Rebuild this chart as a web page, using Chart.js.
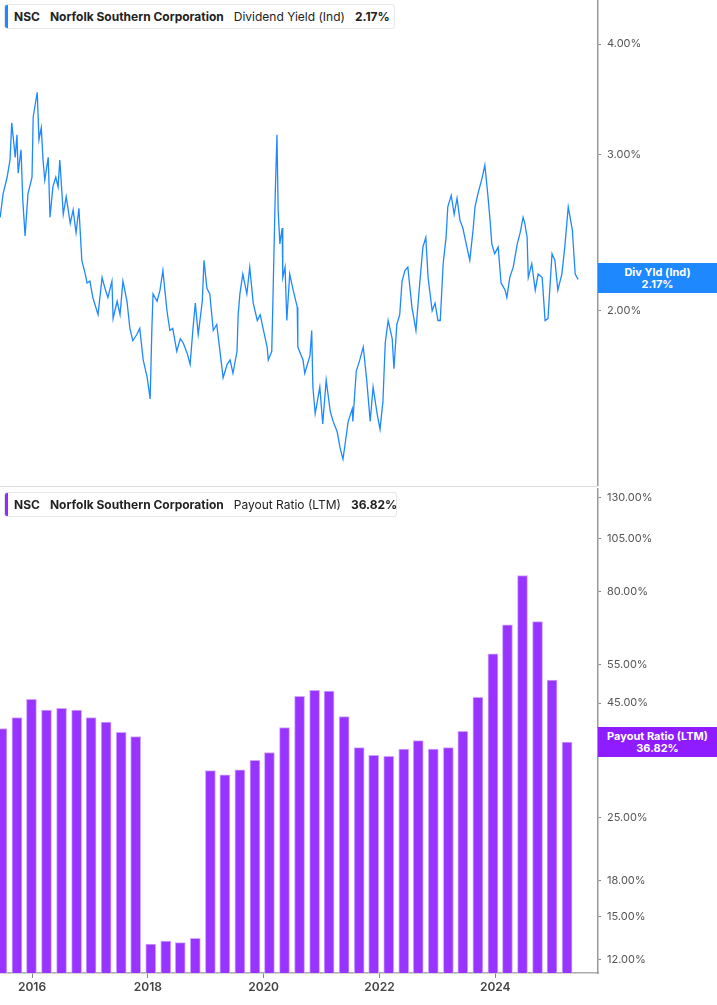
<!DOCTYPE html>
<html><head><meta charset="utf-8">
<script src="https://cdn.jsdelivr.net/npm/chart.js@4.4.1/dist/chart.umd.min.js"></script>
<style>
body{margin:0;background:#fff;width:717px;height:1005px;overflow:hidden;font-family:Inter,"Noto Sans",sans-serif;position:relative}
.wrap{position:absolute;left:0;width:717px}
.leg{position:absolute;left:4px;height:25px;background:#fff;border:1px solid #e6e6e6;border-radius:3px;font-size:12px;color:#222;display:flex;align-items:center;padding:0 12px 0 9px;box-sizing:border-box;white-space:nowrap}
.leg .bar{position:absolute;left:0;top:0;bottom:0;width:3px;border-radius:2px 0 0 2px}
.leg b{font-weight:700;margin-right:10px}
.leg span{margin-right:10px}
.tag{position:absolute;left:598px;width:119px;height:30px;color:#fff;font-size:11px;font-weight:700;text-align:center;line-height:12px;display:flex;flex-direction:column;justify-content:center}
</style></head><body>
<div class="wrap" style="top:-12px;height:510px"><canvas id="c1"></canvas></div>
<div class="wrap" style="top:476px;height:529px"><canvas id="c2"></canvas></div>
<div style="position:absolute;left:0;top:486px;width:598px;height:1px;background:#ddd"></div>
<div class="leg" style="top:4px;width:391px"><div class="bar" style="background:#1e88ff"></div><b>NSC</b><b>Norfolk Southern Corporation</b><span>Dividend Yield (Ind)</span><b style="margin:0">2.17%</b></div>
<div class="leg" style="top:492px;width:393px"><div class="bar" style="background:#8f2cff"></div><b>NSC</b><b>Norfolk Southern Corporation</b><span>Payout Ratio (LTM)</span><b style="margin:0">36.82%</b></div>
<div class="tag" style="top:263px;background:#1e88ff"><div>Div Yld (Ind)</div><div>2.17%</div></div>
<div class="tag" style="top:727px;background:#8f1cff"><div>Payout Ratio (LTM)</div><div>36.82%</div></div>
<script>
const yieldDates=[2015.45,2015.50,2015.57,2015.62,2015.65,2015.71,2015.74,2015.76,2015.81,2015.84,2015.88,2015.93,2016.00,2016.02,2016.09,2016.12,2016.16,2016.19,2016.22,2016.28,2016.31,2016.36,2016.41,2016.45,2016.48,2016.54,2016.59,2016.66,2016.71,2016.76,2016.81,2016.86,2016.92,2016.95,2017.00,2017.05,2017.14,2017.21,2017.26,2017.31,2017.38,2017.40,2017.47,2017.52,2017.57,2017.64,2017.69,2017.74,2017.81,2017.86,2017.92,2017.99,2018.04,2018.07,2018.09,2018.16,2018.21,2018.26,2018.33,2018.38,2018.43,2018.50,2018.56,2018.61,2018.68,2018.73,2018.78,2018.82,2018.87,2018.90,2018.94,2018.97,2019.02,2019.07,2019.13,2019.19,2019.25,2019.30,2019.37,2019.42,2019.47,2019.54,2019.56,2019.59,2019.64,2019.71,2019.76,2019.82,2019.89,2019.94,2019.99,2020.06,2020.08,2020.14,2020.16,2020.20,2020.23,2020.25,2020.28,2020.32,2020.33,2020.37,2020.40,2020.45,2020.51,2020.58,2020.59,2020.68,2020.71,2020.80,2020.83,2020.85,2020.89,2020.97,2021.02,2021.08,2021.15,2021.20,2021.27,2021.32,2021.37,2021.41,2021.46,2021.53,2021.54,2021.60,2021.66,2021.72,2021.78,2021.84,2021.89,2021.96,2022.01,2022.06,2022.10,2022.15,2022.22,2022.25,2022.30,2022.35,2022.39,2022.44,2022.49,2022.56,2022.63,2022.68,2022.75,2022.80,2022.84,2022.91,2022.96,2023.01,2023.05,2023.10,2023.15,2023.18,2023.24,2023.29,2023.34,2023.39,2023.44,2023.51,2023.56,2023.62,2023.65,2023.70,2023.77,2023.82,2023.87,2023.91,2023.94,2023.99,2024.05,2024.10,2024.17,2024.20,2024.25,2024.31,2024.38,2024.43,2024.48,2024.51,2024.55,2024.57,2024.63,2024.69,2024.74,2024.81,2024.86,2024.91,2024.98,2025.03,2025.08,2025.15,2025.20,2025.26,2025.33,2025.38,2025.43];
const yieldValues=[2.55,2.71,2.83,2.96,3.26,2.98,3.16,2.86,3.04,2.67,2.43,2.71,2.83,3.31,3.53,3.12,3.22,2.96,2.81,2.98,2.55,2.76,2.83,2.76,2.96,2.57,2.69,2.51,2.60,2.45,2.61,2.28,2.20,2.15,2.16,2.07,1.98,2.18,2.12,2.07,2.16,1.96,2.05,1.98,2.16,2.05,1.91,1.85,1.88,1.91,1.76,1.68,1.59,1.91,2.09,2.05,2.11,2.22,2.00,1.90,1.91,1.80,1.86,1.84,1.79,1.74,1.91,2.04,1.88,1.95,2.05,2.28,2.12,2.09,1.90,1.93,1.79,1.68,1.74,1.76,1.70,1.80,1.98,2.09,2.20,2.09,2.24,2.04,1.95,1.98,1.91,1.82,1.76,1.80,2.05,2.71,3.16,2.60,2.38,2.48,2.18,2.24,1.95,2.20,2.11,2.02,1.82,1.76,1.70,1.78,1.90,1.64,1.53,1.64,1.49,1.67,1.54,1.50,1.46,1.40,1.36,1.42,1.50,1.55,1.50,1.71,1.76,1.82,1.67,1.50,1.64,1.53,1.47,1.58,1.84,1.95,1.86,1.72,1.93,1.98,2.16,2.22,2.24,2.02,1.90,2.09,2.36,2.42,2.18,2.00,2.04,1.95,1.95,2.26,2.42,2.62,2.70,2.57,2.68,2.53,2.48,2.36,2.28,2.48,2.62,2.71,2.82,2.92,2.71,2.53,2.38,2.32,2.36,2.15,2.11,2.07,2.18,2.24,2.38,2.45,2.55,2.51,2.42,2.18,2.26,2.11,2.20,2.18,1.95,1.96,2.32,2.28,2.11,2.20,2.36,2.62,2.47,2.20,2.17];
const payoutDates=[2015.48,2015.74,2015.99,2016.25,2016.51,2016.77,2017.02,2017.28,2017.54,2017.79,2018.05,2018.31,2018.56,2018.82,2019.08,2019.33,2019.59,2019.85,2020.10,2020.36,2020.62,2020.88,2021.13,2021.39,2021.65,2021.90,2022.16,2022.42,2022.67,2022.93,2023.19,2023.44,2023.70,2023.96,2024.21,2024.47,2024.73,2024.98,2025.24];
const payoutValues=[39.5,41.8,45.9,43.4,43.8,43.4,41.8,40.8,38.7,37.9,13.0,13.2,13.1,13.4,31.8,31.1,31.9,33.5,34.9,39.7,46.6,48.1,47.9,42.0,35.8,34.4,34.2,35.5,37.1,35.5,35.8,38.9,46.4,58.0,67.4,86.9,68.5,50.7,36.82];
const yearTicks=[2016,2018,2020,2022,2024];
const yieldTicks=[2,3,4];
const payoutTicks=[12,15,18,25,35,45,55,80,105,130];

const XMIN=2015.447, XMAX=2025.774;
const tickFont={family:'Inter, "Noto Sans", sans-serif',size:11};
function yAxis(min,max,ticks){
  return {type:'logarithmic',position:'right',min,max,
    afterBuildTicks:a=>{a.ticks=ticks.map(v=>({value:v}))},
    afterFit:a=>{a.width=119},
    grid:{display:true,drawOnChartArea:false,tickLength:3,color:'#888',tickColor:'#888'},
    border:{display:true,color:'#999',width:1.5},
    ticks:{color:'#555',font:tickFont,padding:6,callback:v=>v.toFixed(2)+'%'}};
}
Chart.defaults.animation=false;
new Chart(document.getElementById('c1'),{
  type:'line',
  data:{datasets:[{data:yieldDates.map((d,i)=>({x:d,y:yieldValues[i]})),borderColor:'#1e88ff',borderWidth:1.3,pointRadius:0,tension:0}]},
  options:{responsive:true,maintainAspectRatio:false,layout:{padding:{top:0,bottom:3}},
    plugins:{legend:{display:false},tooltip:{enabled:false}},
    scales:{x:{type:'linear',min:XMIN,max:XMAX,display:false},
      y:yAxis(1.27,4.48,yieldTicks)}}
});
new Chart(document.getElementById('c2'),{
  type:'bar',
  data:{datasets:[{data:payoutDates.map((d,i)=>({x:d,y:payoutValues[i]})),backgroundColor:'#9933ff',borderColor:'#cfa6ff',borderWidth:{top:1,left:1,right:1,bottom:0},borderSkipped:'bottom',barThickness:10}]},
  options:{responsive:true,maintainAspectRatio:false,layout:{padding:{top:0}},
    plugins:{legend:{display:false},tooltip:{enabled:false}},
    scales:{x:{type:'linear',min:XMIN,max:XMAX,offset:false,
        afterBuildTicks:a=>{a.ticks=yearTicks.map(v=>({value:v}))},
        afterFit:a=>{a.height=32},
        grid:{display:true,offset:false,drawOnChartArea:false,tickLength:5,color:'#888'},
        border:{display:true,color:'#aaa',width:1.5},
        ticks:{color:'#444',font:{family:'Inter, "Noto Sans", sans-serif',size:12,weight:'600'},padding:2,maxRotation:0,callback:v=>String(v)}},
      y:yAxis(11.2,136,payoutTicks)}}
});
</script>
</body></html>
